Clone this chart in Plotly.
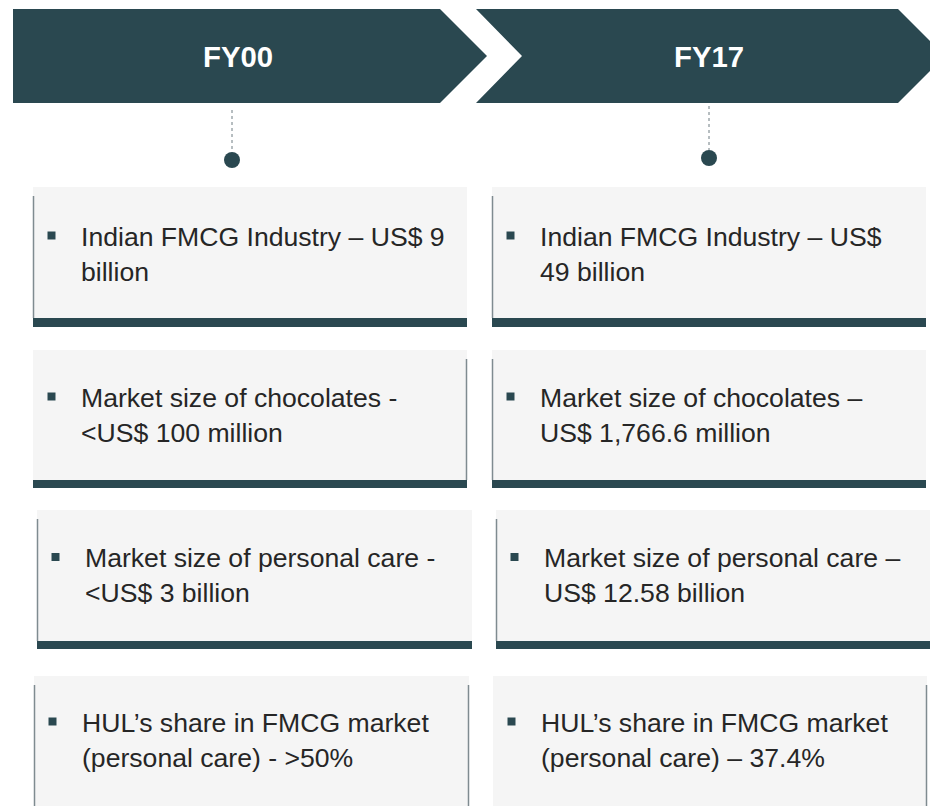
import plotly.graph_objects as go

# ---- content ----
periods = ["FY00", "FY17"]
fy00_lines = [
    ["Indian FMCG Industry – US$ 9", "billion"],
    ["Market size of chocolates -", "<US$ 100 million"],
    ["Market size of personal care -", "<US$ 3 billion"],
    ["HUL’s share in FMCG market", "(personal care) - >50%"],
]
fy17_lines = [
    ["Indian FMCG Industry – US$", "49 billion"],
    ["Market size of chocolates –", "US$ 1,766.6 million"],
    ["Market size of personal care –", "US$ 12.58 billion"],
    ["HUL’s share in FMCG market", "(personal care) – 37.4%"],
]

# ---- layout constants ----
W, H = 930, 806
DARK = "#2a4850"
FILL = "#f5f5f5"
SIDE = "#7f8b90"
TXT = "#262626"
FONT = "Liberation Sans"
FS = 26.6

# boxes: x0, x1, top, band_top, band_bottom, side lines
left_boxes = [
    (33, 467, 187, 318, 327, "l"),
    (33, 467, 350, 480, 488, "r"),
    (37, 472, 510, 641, 649, "l"),
    (34, 469, 676, None, None, "lr"),
]
right_boxes = [
    (492, 926, 187, 318, 327, "l"),
    (492, 926, 350, 480, 488, "l"),
    (496, 932, 510, 641, 649, "l"),
    (493, 927, 676, None, None, "r"),
]
line1_y = [236.5, 397.5, 558, 722.5]
line_gap = 35

shapes = []
annotations = []

# header chevrons
shapes.append(dict(type="path", path="M13,9 L440,9 L487,56 L440,103 L13,103 Z",
                   fillcolor=DARK, line=dict(width=0), layer="below"))
shapes.append(dict(type="path", path="M476,9 L898,9 L945,56 L898,103 L476,103 L522,56 Z",
                   fillcolor=DARK, line=dict(width=0), layer="below"))
header_x = [238, 709]
for label, hx in zip(periods, header_x):
    annotations.append(dict(x=hx, y=56, text=f"<b>{label}</b>", showarrow=False,
                            xanchor="center", yanchor="middle",
                            font=dict(family=FONT, size=29.3, color="white")))

# connectors
for cx, y0, y1, cy in [(232, 110, 152, 160), (709, 106, 150, 158)]:
    shapes.append(dict(type="line", x0=cx, x1=cx, y0=y0, y1=y1,
                       line=dict(color="#6f7d82", width=1, dash="dot")))
    shapes.append(dict(type="circle", x0=cx - 8, x1=cx + 8, y0=cy - 8, y1=cy + 8,
                       fillcolor=DARK, line=dict(width=0)))

def add_column(boxes, texts):
    for (x0, x1, top, bt, bb, sides), lines, ly in zip(boxes, texts, line1_y):
        bottom = bt if bt is not None else H + 5
        shapes.append(dict(type="rect", x0=x0, x1=x1, y0=top, y1=bottom,
                           fillcolor=FILL, line=dict(width=0), layer="below"))
        if bt is not None:
            shapes.append(dict(type="rect", x0=x0, x1=x1, y0=bt, y1=bb,
                               fillcolor=DARK, line=dict(width=0)))
        for s in sides:
            sx = x0 + 0.5 if s == "l" else x1 - 0.5
            shapes.append(dict(type="line", x0=sx, x1=sx, y0=top + 9, y1=bottom,
                               line=dict(color=SIDE, width=1.5)))
        bx = x0 + 18.5
        shapes.append(dict(type="rect", x0=bx - 4, x1=bx + 4, y0=ly - 5, y1=ly + 3,
                           fillcolor=DARK, line=dict(width=0)))
        tx = x0 + 46
        for i, t in enumerate(lines):
            annotations.append(dict(x=tx, y=ly + i * line_gap, text=t, showarrow=False,
                                    xanchor="left", yanchor="middle",
                                    font=dict(family=FONT, size=FS, color=TXT)))

add_column(left_boxes, fy00_lines)
add_column(right_boxes, fy17_lines)

fig = go.Figure()
fig.update_layout(
    width=W, height=H,
    margin=dict(l=0, r=0, t=0, b=0),
    paper_bgcolor="white", plot_bgcolor="white",
    xaxis=dict(range=[0, W], visible=False, fixedrange=True),
    yaxis=dict(range=[H, 0], visible=False, fixedrange=True),
    shapes=shapes, annotations=annotations, showlegend=False,
)
fig.write_html("out.html", config=dict(displayModeBar=False),
               post_script="document.body.style.margin='0';document.body.style.padding='0';")
